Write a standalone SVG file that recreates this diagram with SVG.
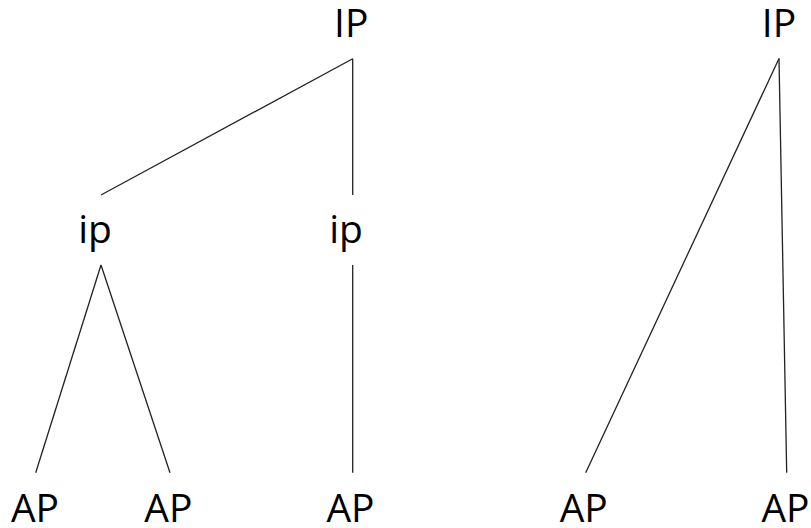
<svg xmlns="http://www.w3.org/2000/svg" width="811" height="528" viewBox="0 0 811 528">
<style>
text{font-family:"Open Sans","Liberation Sans",sans-serif;font-size:39px;fill:#000;text-anchor:middle}
.e{stroke:#222;stroke-width:1.3;fill:none}
</style>
<rect width="811" height="528" fill="#fff"/>
<g id="connectors">
<line class="e" x1="352.7" y1="58.7" x2="101" y2="195"/>
<line class="e" x1="352.7" y1="58.7" x2="352.7" y2="195"/>
<line class="e" x1="101" y1="265" x2="35.7" y2="472.7"/>
<line class="e" x1="101" y1="265" x2="170" y2="472.7"/>
<line class="e" x1="352.7" y1="265" x2="352.7" y2="472.7"/>
<line class="e" x1="779" y1="58.5" x2="585.7" y2="472.7"/>
<line class="e" x1="779" y1="58.5" x2="786.7" y2="472.7"/>
</g>
<g id="IP1"><text x="351.2" y="36.5">IP</text></g>
<g id="ip1"><text x="95" y="243">ip</text></g>
<g id="ip2"><text x="346" y="243">ip</text></g>
<g id="AP1"><text x="35" y="521.5">AP</text></g>
<g id="AP2"><text x="168.3" y="521.5">AP</text></g>
<g id="AP3"><text x="350.5" y="521.5">AP</text></g>
<g id="IP2"><text x="779" y="36.5">IP</text></g>
<g id="AP4"><text x="583.7" y="521.5">AP</text></g>
<g id="AP5"><text x="785.5" y="521.5">AP</text></g>
</svg>
